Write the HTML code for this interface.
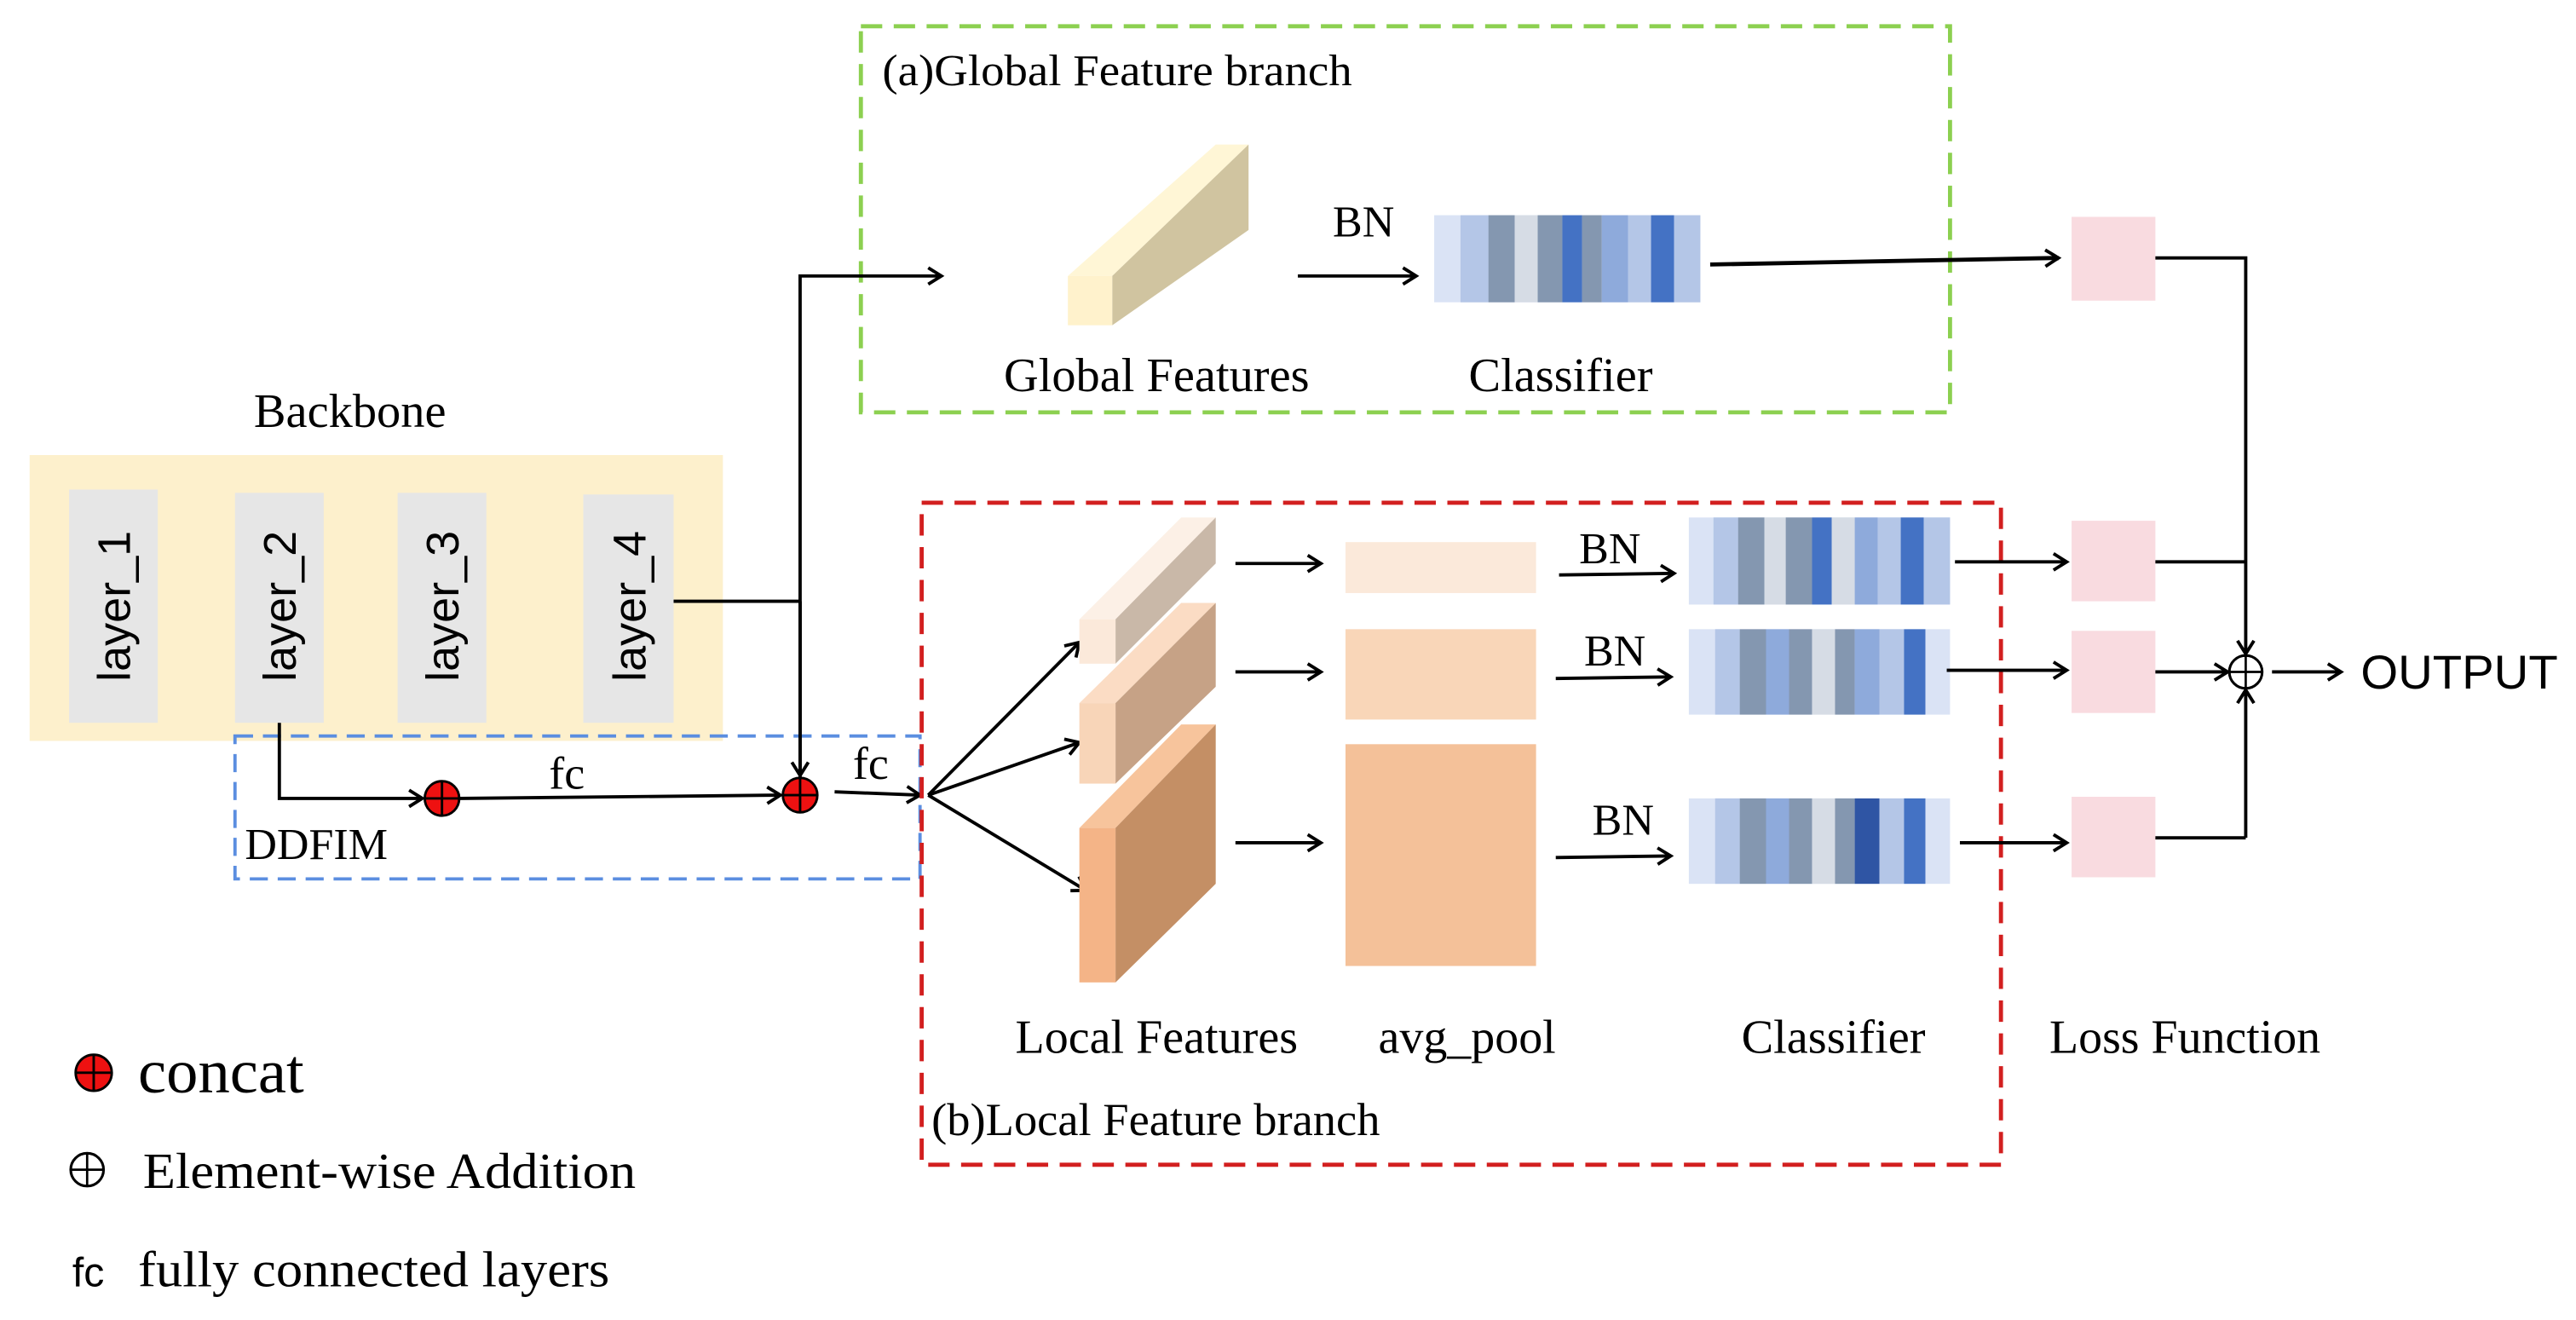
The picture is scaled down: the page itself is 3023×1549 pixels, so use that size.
<!DOCTYPE html>
<html><head><meta charset="utf-8"><style>
html,body{margin:0;padding:0;background:#fff;}
svg{display:block;}
.t{font-family:"Liberation Serif",serif;fill:#000;}
.a{font-family:"Liberation Sans",sans-serif;fill:#000;}
</style></head><body>
<svg width="3023" height="1549" viewBox="0 0 1568 803.5" xmlns="http://www.w3.org/2000/svg">
<defs>
<marker id="ar" markerWidth="14" markerHeight="14" refX="11" refY="7" orient="auto" markerUnits="userSpaceOnUse">
<path d="M3,2 L11,7 L3,12" fill="none" stroke="#000" stroke-width="2"/>
</marker>
</defs>
<rect width="1568" height="803.5" fill="#fff"/>

<!-- Green box -->
<rect x="524" y="16" width="663" height="235" fill="none" stroke="#8cd050" stroke-width="2.5" stroke-dasharray="13,7"/>
<text class="t" x="537" y="52" font-size="27" textLength="286" lengthAdjust="spacingAndGlyphs">(a)Global Feature branch</text>

<!-- Backbone -->
<text class="t" x="213" y="260" font-size="29" text-anchor="middle" textLength="117" lengthAdjust="spacingAndGlyphs">Backbone</text>
<rect x="18" y="277" width="422" height="174" fill="#fdf0cc"/>
<rect x="42" y="298" width="54" height="142" fill="#e6e6e6"/>
<rect x="143" y="300" width="54" height="140" fill="#e6e6e6"/>
<rect x="242" y="300" width="54" height="140" fill="#e6e6e6"/>
<rect x="355" y="301" width="55" height="139" fill="#e6e6e6"/>
<text class="a" font-size="28" transform="translate(79,369) rotate(-90)" text-anchor="middle">layer_1</text>
<text class="a" font-size="28" transform="translate(180,369) rotate(-90)" text-anchor="middle">layer_2</text>
<text class="a" font-size="28" transform="translate(279,369) rotate(-90)" text-anchor="middle">layer_3</text>
<text class="a" font-size="28" transform="translate(393,369) rotate(-90)" text-anchor="middle">layer_4</text>

<!-- DDFIM box -->
<rect x="143" y="448" width="417" height="87" fill="none" stroke="#5b8ee0" stroke-width="2" stroke-dasharray="11,6"/>
<text class="t" x="149" y="523" font-size="27" textLength="87" lengthAdjust="spacingAndGlyphs">DDFIM</text>

<!-- connectors backbone -->
<path d="M410,366 H487" stroke="#000" stroke-width="2" fill="none"/>
<path d="M487,473 V168 H573" stroke="#000" stroke-width="2" fill="none" marker-end="url(#ar)"/>
<path d="M487,366 V472" stroke="#000" stroke-width="2" fill="none" marker-end="url(#ar)"/>
<path d="M170,440 V486 H257" stroke="#000" stroke-width="2" fill="none" marker-end="url(#ar)"/>
<path d="M280,486 L475,484" stroke="#000" stroke-width="2" fill="none" marker-end="url(#ar)"/>
<path d="M508,482 L560,484" stroke="#000" stroke-width="2" fill="none" marker-end="url(#ar)"/>
<g stroke="#000" stroke-width="1.5">
<circle cx="269" cy="486" r="10.5" fill="#ee1111"/>
<path d="M258.5,486 H279.5 M269,475.5 V496.5"/>
<circle cx="487" cy="484" r="10.5" fill="#ee1111"/>
<path d="M476.5,484 H497.5 M487,473.5 V494.5"/>
</g>
<text class="t" x="345" y="480" font-size="28" text-anchor="middle">fc</text>
<text class="t" x="530" y="474" font-size="28" text-anchor="middle">fc</text>

<!-- Global branch contents -->
<polygon points="650,168 740,88 760,88 677,168" fill="#fff6d6"/>
<polygon points="677,168 760,88 760,140 677,198" fill="#d0c4a0"/>
<rect x="650" y="168" width="27" height="30" fill="#fff2cc"/>
<path d="M790,168 H862" stroke="#000" stroke-width="2" marker-end="url(#ar)"/>
<text class="t" x="830" y="144" font-size="27" text-anchor="middle">BN</text>
<g>
<rect x="873" y="131" width="162" height="53" fill="#dae3f5"/>
<rect x="889" y="131" width="17" height="53" fill="#b4c6e7"/>
<rect x="906" y="131" width="16" height="53" fill="#8497b0"/>
<rect x="922" y="131" width="14" height="53" fill="#d6dce5"/>
<rect x="936" y="131" width="15" height="53" fill="#8497b0"/>
<rect x="951" y="131" width="12" height="53" fill="#4472c4"/>
<rect x="963" y="131" width="12" height="53" fill="#8497b0"/>
<rect x="975" y="131" width="16" height="53" fill="#8eaadb"/>
<rect x="991" y="131" width="14" height="53" fill="#b4c6e7"/>
<rect x="1005" y="131" width="14" height="53" fill="#4472c4"/>
<rect x="1019" y="131" width="16" height="53" fill="#b4c6e7"/>
</g>
<text class="t" x="704" y="238" font-size="29" text-anchor="middle" textLength="186" lengthAdjust="spacingAndGlyphs">Global Features</text>
<text class="t" x="950" y="238" font-size="29" text-anchor="middle" textLength="112" lengthAdjust="spacingAndGlyphs">Classifier</text>
<path d="M1041,161 L1253,157" stroke="#000" stroke-width="2.5" marker-end="url(#ar)"/>

<!-- Red box -->
<rect x="561" y="306" width="657" height="403" fill="none" stroke="#d21f1f" stroke-width="2.5" stroke-dasharray="13,7"/>
<text class="t" x="567" y="691" font-size="28" textLength="273" lengthAdjust="spacingAndGlyphs">(b)Local Feature branch</text>

<!-- fan arrows -->
<path d="M565,484 L657,391" stroke="#000" stroke-width="2" marker-end="url(#ar)"/>
<path d="M565,484 L657,452" stroke="#000" stroke-width="2" marker-end="url(#ar)"/>
<path d="M565,484 L661,542" stroke="#000" stroke-width="2" marker-end="url(#ar)"/>

<!-- slabs -->
<polygon points="657,377 719,315 740,315 679,377" fill="#fcf0e6"/>
<polygon points="679,377 740,315 740,343 679,404" fill="#c9b8a8"/>
<rect x="657" y="377" width="22" height="27" fill="#fbe9da"/>
<polygon points="657,428 719,367 740,367 679,428" fill="#fbdcc4"/>
<polygon points="679,428 740,367 740,418 679,477" fill="#c6a286"/>
<rect x="657" y="428" width="22" height="49" fill="#f8d5b8"/>
<polygon points="657,504 719,441 740,441 679,504" fill="#f7c49c"/>
<polygon points="679,504 740,441 740,538 679,598" fill="#c48f65"/>
<rect x="657" y="504" width="22" height="94" fill="#f4b487"/>

<path d="M752,343 H804" stroke="#000" stroke-width="2" marker-end="url(#ar)"/>
<path d="M752,409 H804" stroke="#000" stroke-width="2" marker-end="url(#ar)"/>
<path d="M752,513 H804" stroke="#000" stroke-width="2" marker-end="url(#ar)"/>

<rect x="819" y="330" width="116" height="31" fill="#fbe9da"/>
<rect x="819" y="383" width="116" height="55" fill="#f9d6b8"/>
<rect x="819" y="453" width="116" height="135" fill="#f4c199"/>

<path d="M949,350 L1019,349" stroke="#000" stroke-width="2" marker-end="url(#ar)"/>
<path d="M947,413 L1017,412" stroke="#000" stroke-width="2" marker-end="url(#ar)"/>
<path d="M947,522 L1017,521" stroke="#000" stroke-width="2" marker-end="url(#ar)"/>
<text class="t" x="980" y="343" font-size="27" text-anchor="middle">BN</text>
<text class="t" x="983" y="405" font-size="27" text-anchor="middle">BN</text>
<text class="t" x="988" y="508" font-size="27" text-anchor="middle">BN</text>

<!-- local classifiers -->
<g>
<rect x="1028" y="315" width="159" height="53" fill="#dae3f5"/>
<rect x="1043" y="315" width="15" height="53" fill="#b4c6e7"/>
<rect x="1058" y="315" width="16" height="53" fill="#8497b0"/>
<rect x="1074" y="315" width="13" height="53" fill="#d6dce5"/>
<rect x="1087" y="315" width="16" height="53" fill="#8497b0"/>
<rect x="1103" y="315" width="12" height="53" fill="#4472c4"/>
<rect x="1115" y="315" width="14" height="53" fill="#d6dce5"/>
<rect x="1129" y="315" width="14" height="53" fill="#8eaadb"/>
<rect x="1143" y="315" width="14" height="53" fill="#b4c6e7"/>
<rect x="1157" y="315" width="14" height="53" fill="#4472c4"/>
<rect x="1171" y="315" width="16" height="53" fill="#b4c6e7"/>
</g>
<g>
<rect x="1028" y="383" width="159" height="52" fill="#dae3f5"/>
<rect x="1044" y="383" width="15" height="52" fill="#b4c6e7"/>
<rect x="1059" y="383" width="16" height="52" fill="#8497b0"/>
<rect x="1075" y="383" width="14" height="52" fill="#8eaadb"/>
<rect x="1089" y="383" width="14" height="52" fill="#8497b0"/>
<rect x="1103" y="383" width="14" height="52" fill="#d6dce5"/>
<rect x="1117" y="383" width="12" height="52" fill="#8497b0"/>
<rect x="1129" y="383" width="15" height="52" fill="#8eaadb"/>
<rect x="1144" y="383" width="15" height="52" fill="#b4c6e7"/>
<rect x="1159" y="383" width="13" height="52" fill="#4472c4"/>
</g>
<g>
<rect x="1028" y="486" width="159" height="52" fill="#dae3f5"/>
<rect x="1044" y="486" width="15" height="52" fill="#b4c6e7"/>
<rect x="1059" y="486" width="16" height="52" fill="#8497b0"/>
<rect x="1075" y="486" width="14" height="52" fill="#8eaadb"/>
<rect x="1089" y="486" width="14" height="52" fill="#8497b0"/>
<rect x="1103" y="486" width="14" height="52" fill="#d6dce5"/>
<rect x="1117" y="486" width="12" height="52" fill="#8497b0"/>
<rect x="1129" y="486" width="15" height="52" fill="#2f55a4"/>
<rect x="1144" y="486" width="15" height="52" fill="#b4c6e7"/>
<rect x="1159" y="486" width="13" height="52" fill="#4472c4"/>
</g>
<text class="t" x="704" y="641" font-size="29" text-anchor="middle" textLength="172" lengthAdjust="spacingAndGlyphs">Local Features</text>
<text class="t" x="893" y="641" font-size="29" text-anchor="middle" textLength="108" lengthAdjust="spacingAndGlyphs">avg_pool</text>
<text class="t" x="1116" y="641" font-size="29" text-anchor="middle" textLength="112" lengthAdjust="spacingAndGlyphs">Classifier</text>
<text class="t" x="1330" y="641" font-size="29" text-anchor="middle" textLength="165" lengthAdjust="spacingAndGlyphs">Loss Function</text>

<!-- loss boxes -->
<rect x="1261" y="132" width="51" height="51" fill="#f9dbe0"/>
<rect x="1261" y="317" width="51" height="49" fill="#f9dbe0"/>
<rect x="1261" y="384" width="51" height="50" fill="#f9dbe0"/>
<rect x="1261" y="485" width="51" height="49" fill="#f9dbe0"/>
<path d="M1190,342 H1258" stroke="#000" stroke-width="2" marker-end="url(#ar)"/>
<path d="M1185,408 H1258" stroke="#000" stroke-width="2" marker-end="url(#ar)"/>
<path d="M1193,513 H1258" stroke="#000" stroke-width="2" marker-end="url(#ar)"/>

<path d="M1312,157 H1367 V398" stroke="#000" stroke-width="2" fill="none" marker-end="url(#ar)"/>
<path d="M1312,342 H1367" stroke="#000" stroke-width="2"/>
<path d="M1312,409 H1356" stroke="#000" stroke-width="2" marker-end="url(#ar)"/>
<path d="M1367,510 V420" stroke="#000" stroke-width="2" fill="none" marker-end="url(#ar)"/>
<path d="M1312,510 H1367" stroke="#000" stroke-width="2"/>
<circle cx="1367" cy="409" r="10" fill="#fff" stroke="#000" stroke-width="1.6"/>
<path d="M1357,409 H1377 M1367,399 V419" stroke="#000" stroke-width="1.4"/>
<path d="M1383,409 H1425" stroke="#000" stroke-width="2" marker-end="url(#ar)"/>
<text class="a" x="1437" y="419" font-size="29" textLength="120" lengthAdjust="spacingAndGlyphs">OUTPUT</text>

<!-- legend -->
<circle cx="57" cy="653" r="11" fill="#ee1111" stroke="#000" stroke-width="1.5"/>
<path d="M46,653 H68 M57,642 V664" stroke="#000" stroke-width="1.5"/>
<text class="t" x="84" y="665" font-size="38" textLength="101" lengthAdjust="spacingAndGlyphs">concat</text>
<circle cx="53" cy="712" r="10" fill="#fff" stroke="#000" stroke-width="1.6"/>
<path d="M43,712 H63 M53,702 V722" stroke="#000" stroke-width="1.4"/>
<text class="t" x="87" y="723" font-size="31" textLength="300" lengthAdjust="spacingAndGlyphs">Element-wise Addition</text>
<text class="a" x="44" y="783" font-size="25">fc</text>
<text class="t" x="84" y="783" font-size="31" textLength="287" lengthAdjust="spacingAndGlyphs">fully connected layers</text>
</svg>
</body></html>
